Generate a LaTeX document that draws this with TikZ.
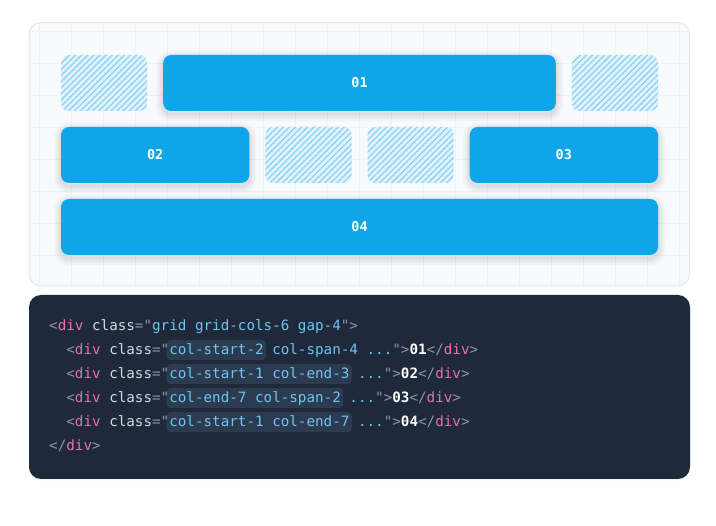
\documentclass[tikz,border=0pt]{standalone}
\usepackage{fontspec}
\setmonofont{DejaVu Sans Mono}
\usepackage{xcolor}
\usetikzlibrary{shadows,patterns.meta}

\definecolor{panelbg}{HTML}{F8FAFC}
\definecolor{panelline}{HTML}{E3E6EB}
\definecolor{gridc}{HTML}{EFF1F5}
\definecolor{sky}{HTML}{0EA5E9}
\definecolor{hatchbg}{HTML}{E0F2FE}
\definecolor{hatchline}{HTML}{8DD3F5}
\definecolor{codebg}{HTML}{1E293B}
\definecolor{marked}{HTML}{2C3B50}
\definecolor{punc}{HTML}{8B97A8}
\definecolor{tagn}{HTML}{EC6FAE}
\definecolor{attr}{HTML}{D3DAE3}
\definecolor{val}{HTML}{6EC5EE}

% code colouring
\newcommand\pn[1]{\textcolor{punc}{#1}}
\newcommand\tn[1]{\textcolor{tagn}{#1}}
\newcommand\at[1]{\textcolor{attr}{#1}}
\newcommand\vl[1]{\textcolor{val}{#1}}
\newcommand\cw{8.58}

\begin{document}
\begin{tikzpicture}[x=1pt,y=-1pt,
    softshade/.style={preaction={draw=black, draw opacity=0.028, line width=#1,
        transform canvas={yshift=-3pt}}},
    cell/.style={fill=sky, rounded corners=8pt, text=white, inner sep=0pt,
        font=\ttfamily\bfseries\fontsize{13.5}{16}\selectfont, minimum height=56pt,
        softshade=14pt, softshade=10pt, softshade=6pt, softshade=3pt},
    hatchbox/.style={rounded corners=8pt, inner sep=0pt, preaction={fill=hatchbg},
        pattern={Lines[angle=45,distance=4.3pt,line width=1.3pt]}, pattern color=hatchline,
        minimum width=86.2pt, minimum height=56pt},
    codeline/.style={anchor=base west, inner sep=0pt, font=\ttfamily\fontsize{14.25}{17}\selectfont}
]
    \useasboundingbox (0,0) rectangle (716,526);

    % layout panel with grid
    \fill[panelbg, rounded corners=12pt] (29,22.5) rectangle (689.5,286);
    \begin{scope}
        \clip[rounded corners=12pt] (29,22.5) rectangle (689.5,286);
        \foreach \x in {39,71,...,679} { \draw[gridc, line width=1pt] (\x,22) -- (\x,286); }
        \foreach \y in {32,64,...,256} { \draw[gridc, line width=1pt] (29,\y) -- (690,\y); }
    \end{scope}
    \draw[panelline, line width=1pt, rounded corners=12pt] (29,22.5) rectangle (689.5,286);

    % empty tracks
    \foreach \name/\x/\y in {
        h1/61/55,
        h2/571.8/55,
        h3/265.3/127,
        h4/367.5/127
    } {
        \node[hatchbox] (\name) at ({\x+43.1},{\y+28}) {};
    }

    % grid items
    \foreach \name/\x/\y/\w/\label in {
        one/163.2/55/392.6/01,
        two/61/127/188.3/02,
        three/469.7/127/188.3/03,
        four/61/199/597/04
    } {
        \node[cell, minimum width=\w pt] (\name) at ({\x+\w/2},{\y+28}) {\label};
    }

    % code panel
    \fill[codebg, rounded corners=12pt, drop shadow={shadow xshift=0pt, shadow yshift=-1.5pt, opacity=0.08}]
        (29,295) rectangle (690,479);
    \foreach \ln/\n in {2/11, 3/21, 4/20, 5/21} {
        \fill[marked, rounded corners=4pt]
            ({49+14*\cw-2.5},{331+24*(\ln-1)-15}) rectangle ({49+(14+\n)*\cw+2.5},{331+24*(\ln-1)+5});
    }

    \node[codeline] (l1) at (49,331) {\pn{<}\tn{div} \at{class}\pn{="}\vl{grid grid-cols-6 gap-4}\pn{">}};
    \node[codeline] (l2) at ({49+2*\cw},355) {\pn{<}\tn{div} \at{class}\pn{="}\vl{col-start-2 col-span-4 ...}\pn{">}\textcolor{white}{\bfseries 01}\pn{</}\tn{div}\pn{>}};
    \node[codeline] (l3) at ({49+2*\cw},379) {\pn{<}\tn{div} \at{class}\pn{="}\vl{col-start-1 col-end-3 ...}\pn{">}\textcolor{white}{\bfseries 02}\pn{</}\tn{div}\pn{>}};
    \node[codeline] (l4) at ({49+2*\cw},403) {\pn{<}\tn{div} \at{class}\pn{="}\vl{col-end-7 col-span-2 ...}\pn{">}\textcolor{white}{\bfseries 03}\pn{</}\tn{div}\pn{>}};
    \node[codeline] (l5) at ({49+2*\cw},427) {\pn{<}\tn{div} \at{class}\pn{="}\vl{col-start-1 col-end-7 ...}\pn{">}\textcolor{white}{\bfseries 04}\pn{</}\tn{div}\pn{>}};
    \node[codeline] (l6) at (49,451) {\pn{</}\tn{div}\pn{>}};
\end{tikzpicture}
\end{document}
